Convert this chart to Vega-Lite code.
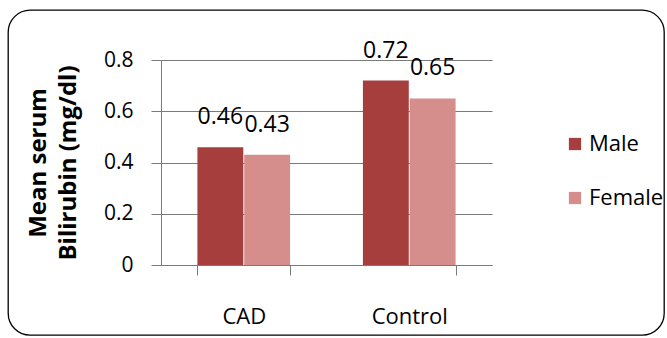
{
  "$schema": "https://vega.github.io/schema/vega-lite/v6.json",
  "width": 656,
  "height": 325,
  "autosize": {"type": "none"},
  "padding": {"left": 8, "top": 10, "right": 3, "bottom": 3},
  "background": "white",
  "data": {
    "values": [
      {"group": "CAD", "sex": "Male", "value": 0.46},
      {"group": "CAD", "sex": "Female", "value": 0.43},
      {"group": "Control", "sex": "Male", "value": 0.72},
      {"group": "Control", "sex": "Female", "value": 0.65}
    ]
  },
  "encoding": {
    "x": {
      "field": "group",
      "type": "nominal",
      "sort": ["CAD", "Control"],
      "scale": {"range": [153, 484], "paddingInner": 0.44, "paddingOuter": 0.22},
      "axis": {
        "title": null,
        "orient": "bottom",
        "offset": -70,
        "labelAngle": 0,
        "labelFont": "Open Sans",
        "labelFontSize": 22,
        "labelColor": "#000",
        "labelPadding": 31,
        "labelBaseline": "top",
        "tickBand": "extent",
        "tickSize": 10,
        "tickColor": "#7a7a7a",
        "domainColor": "#7a7a7a",
        "grid": false
      }
    },
    "xOffset": {
      "field": "sex",
      "type": "nominal",
      "sort": ["Male", "Female"],
      "scale": {"paddingInner": 0.02}
    },
    "y": {
      "field": "value",
      "type": "quantitative",
      "scale": {"domain": [0, 0.8], "range": [255, 50], "nice": false},
      "axis": {
        "title": ["Mean serum", "Bilirubin (mg/dl)"],
        "titleFont": "Open Sans",
        "titleFontSize": 24,
        "titleFontWeight": "bold",
        "titleColor": "#000",
        "titleLineHeight": 30,
        "titlePadding": 23,
        "offset": -153,
        "values": [0, 0.2, 0.4, 0.6, 0.8],
        "format": "~g",
        "labelFont": "Open Sans",
        "labelFontSize": 21,
        "labelColor": "#000",
        "labelPadding": 18,
        "tickSize": 10,
        "tickColor": "#7a7a7a",
        "domainColor": "#7a7a7a",
        "grid": true,
        "gridColor": "#7a7a7a",
        "gridWidth": 1.2
      }
    }
  },
  "layer": [
    {
      "mark": {"type": "bar"},
      "encoding": {
        "color": {
          "field": "sex",
          "type": "nominal",
          "sort": ["Male", "Female"],
          "scale": {"domain": ["Male", "Female"], "range": ["#A63E3D", "#D68E8C"]},
          "legend": {
            "title": null,
            "orient": "none",
            "legendX": 556,
            "legendY": 123,
            "symbolType": "square",
            "symbolSize": 150,
            "symbolStrokeWidth": 0,
            "labelFont": "Open Sans",
            "labelFontSize": 22,
            "labelColor": "#000",
            "labelOffset": 3,
            "rowPadding": 32
          }
        }
      }
    },
    {
      "mark": {"type": "text", "dy": -23, "baseline": "alphabetic", "font": "Open Sans", "fontSize": 23, "color": "#000"},
      "encoding": {
        "text": {"field": "value", "type": "quantitative", "format": ".2f"}
      }
    }
  ],
  "config": {
    "view": {"stroke": "#000", "strokeWidth": 1.3, "cornerRadius": 22}
  }
}
